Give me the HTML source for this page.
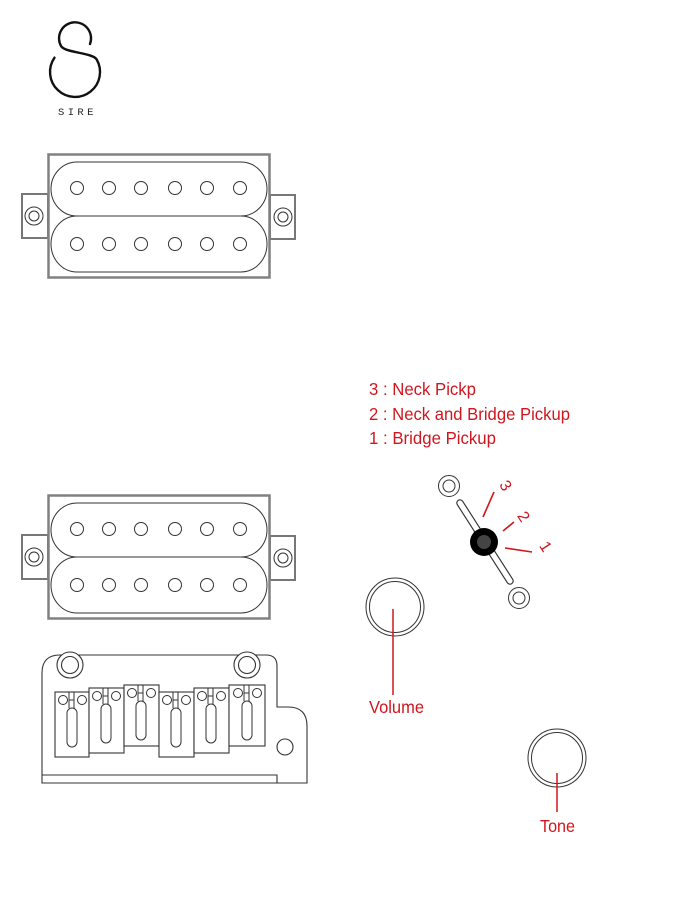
<!DOCTYPE html>
<html>
<head>
<meta charset="utf-8">
<style>
  html, body { margin: 0; padding: 0; background: #fff; }
  body { width: 675px; height: 900px; overflow: hidden; }
  svg { display: block; }
  .red { fill: #d0161e; font-family: "Liberation Sans", sans-serif; }
</style>
</head>
<body>
<svg width="675" height="900" viewBox="0 0 675 900" xmlns="http://www.w3.org/2000/svg">
  <rect width="675" height="900" fill="#fff"/>

  <!-- SIRE logo -->
  <path d="M 90 44 A 16 16 0 1 0 61 46 C 65 53, 92.7 52.5, 96.7 59.5 A 25 25 0 1 1 54.5 57.7"
        fill="none" stroke="#111" stroke-width="2.4" stroke-linecap="round"/>
  <text x="58" y="115" font-family="'Liberation Mono', monospace" font-size="10.5" letter-spacing="3.4" fill="#222">SIRE</text>

  <!-- Humbucker definition -->
  <defs>
    <g id="hb">
      <!-- tabs -->
      <rect x="22" y="194" width="26" height="44" fill="#fff" stroke="#777" stroke-width="2"/>
      <rect x="270" y="195" width="25" height="44" fill="#fff" stroke="#777" stroke-width="2"/>
      <!-- frame -->
      <rect x="48.5" y="154.5" width="221" height="123" fill="#fff" stroke="#808080" stroke-width="2.5"/>
      <!-- coils -->
      <rect x="51" y="162" width="216" height="54" rx="26" ry="27" fill="none" stroke="#333" stroke-width="1"/>
      <rect x="51" y="216" width="216" height="56" rx="26" ry="28" fill="none" stroke="#333" stroke-width="1"/>
      <!-- poles -->
      <g fill="none" stroke="#333" stroke-width="1">
        <circle cx="77" cy="188" r="6.5"/>
        <circle cx="109" cy="188" r="6.5"/>
        <circle cx="141" cy="188" r="6.5"/>
        <circle cx="175" cy="188" r="6.5"/>
        <circle cx="207" cy="188" r="6.5"/>
        <circle cx="240" cy="188" r="6.5"/>
        <circle cx="77" cy="244" r="6.5"/>
        <circle cx="109" cy="244" r="6.5"/>
        <circle cx="141" cy="244" r="6.5"/>
        <circle cx="175" cy="244" r="6.5"/>
        <circle cx="207" cy="244" r="6.5"/>
        <circle cx="240" cy="244" r="6.5"/>
        <!-- screws -->
        <circle cx="34" cy="216" r="9"/>
        <circle cx="34" cy="216" r="5"/>
        <circle cx="283" cy="217" r="9"/>
        <circle cx="283" cy="217" r="5"/>
      </g>
    </g>
  </defs>

  <use href="#hb"/>
  <use href="#hb" transform="translate(0,341)"/>

  <!-- Bridge -->
  <g fill="none" stroke="#333" stroke-width="1.1">
    <path d="M 42 783 L 42 673 Q 42 655 60 655 L 266 655 Q 277 655 277 666 L 277 707 L 288 707 Q 307 707 307 726 L 307 783 Z" fill="#fff"/>
    <path d="M 42 775 L 277 775 L 277 783"/>
    <!-- studs -->
    <circle cx="70" cy="665" r="13" fill="#fff"/>
    <circle cx="70" cy="665" r="8.5"/>
    <circle cx="247" cy="665" r="13" fill="#fff"/>
    <circle cx="247" cy="665" r="8.5"/>
    <!-- mounting hole -->
    <circle cx="285" cy="747" r="8"/>

    <!-- saddles -->
    <rect x="55" y="692" width="34" height="65" fill="#fff"/>
    <rect x="89" y="688" width="35" height="65" fill="#fff"/>
    <rect x="124" y="685" width="35" height="61" fill="#fff"/>
    <rect x="159" y="692" width="35" height="65" fill="#fff"/>
    <rect x="194" y="688" width="35" height="65" fill="#fff"/>
    <rect x="229" y="685" width="36" height="61" fill="#fff"/>
  </g>

  <!-- saddle details -->
  <defs>
    <g id="sd" fill="none" stroke="#333" stroke-width="1">
      <circle cx="-9" cy="8" r="4.5"/>
      <circle cx="10" cy="8" r="4.5"/>
      <path d="M -3 0 L -3 16 M 2 0 L 2 16 M -3 8 L 2 8"/>
      <rect x="-5" y="16" width="10" height="39" rx="5" ry="5"/>
    </g>
  </defs>
  <use href="#sd" transform="translate(72,692)"/>
  <use href="#sd" transform="translate(106,688)"/>
  <use href="#sd" transform="translate(141,685)"/>
  <use href="#sd" transform="translate(176,692)"/>
  <use href="#sd" transform="translate(211,688)"/>
  <use href="#sd" transform="translate(247,685)"/>

  <!-- Legend -->
  <text class="red" x="369" y="395" font-size="17.5" textLength="107" lengthAdjust="spacingAndGlyphs">3 : Neck Pickp</text>
  <text class="red" x="369" y="420" font-size="17.5" textLength="201" lengthAdjust="spacingAndGlyphs">2 : Neck and Bridge Pickup</text>
  <text class="red" x="369" y="444" font-size="17.5" textLength="127" lengthAdjust="spacingAndGlyphs">1 : Bridge Pickup</text>

  <!-- Switch -->
  <g fill="none" stroke="#333" stroke-width="1">
    <circle cx="449" cy="486" r="10.5"/>
    <circle cx="449" cy="486" r="6"/>
    <circle cx="519" cy="598" r="10.5"/>
    <circle cx="519" cy="598" r="6"/>
  </g>
  <line x1="460" y1="503" x2="510" y2="581" stroke="#333" stroke-width="7.5" stroke-linecap="round"/>
  <line x1="460" y1="503" x2="510" y2="581" stroke="#fff" stroke-width="5.2" stroke-linecap="round"/>
  <circle cx="484" cy="542" r="14" fill="#000"/>
  <circle cx="484" cy="542" r="7" fill="#444"/>

  <!-- switch ticks -->
  <g stroke="#d0161e" stroke-width="1.6">
    <line x1="494" y1="492" x2="483" y2="517"/>
    <line x1="514" y1="522" x2="503" y2="531"/>
    <line x1="505" y1="548" x2="532" y2="552"/>
  </g>
  <text class="red" x="0" y="0" font-size="16" text-anchor="middle" dominant-baseline="central" transform="translate(505,486) rotate(57)">3</text>
  <text class="red" x="0" y="0" font-size="16" text-anchor="middle" dominant-baseline="central" transform="translate(523,517) rotate(57)">2</text>
  <text class="red" x="0" y="0" font-size="16" text-anchor="middle" dominant-baseline="central" transform="translate(545,547) rotate(57)">1</text>

  <!-- Knobs -->
  <g fill="none" stroke="#333" stroke-width="1">
    <circle cx="395" cy="607" r="29"/>
    <circle cx="395" cy="607" r="25.5"/>
    <circle cx="557" cy="758" r="29"/>
    <circle cx="557" cy="758" r="25.5"/>
  </g>
  <line x1="393" y1="609" x2="393" y2="695" stroke="#d0161e" stroke-width="1.5"/>
  <line x1="557" y1="773" x2="557" y2="812" stroke="#d0161e" stroke-width="1.5"/>
  <text class="red" x="369" y="713" font-size="17.5" textLength="55" lengthAdjust="spacingAndGlyphs">Volume</text>
  <text class="red" x="540" y="832" font-size="17.5" textLength="35" lengthAdjust="spacingAndGlyphs">Tone</text>
</svg>
</body>
</html>
